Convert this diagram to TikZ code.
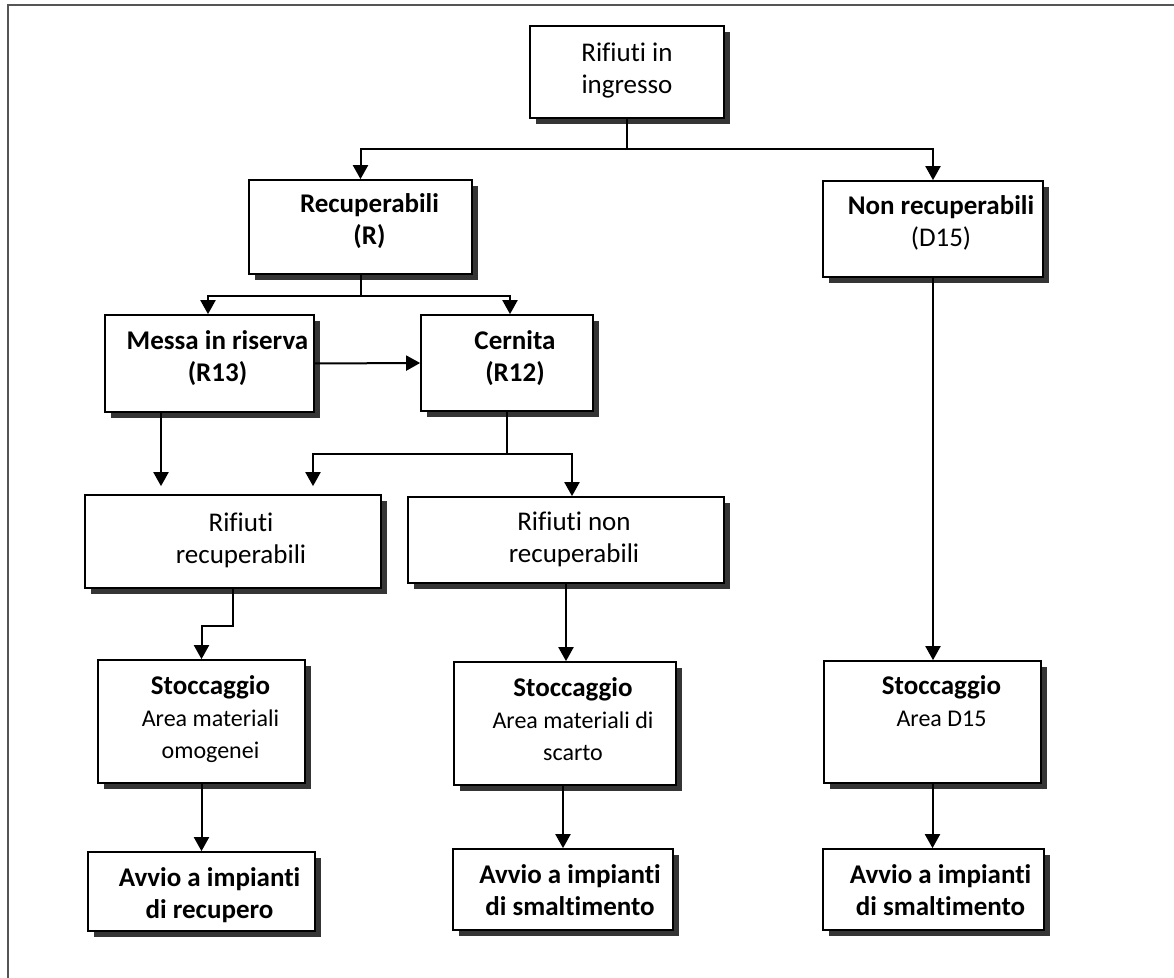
\documentclass[tikz,border=0pt]{standalone}
\usepackage{fontspec}
\setmainfont{Carlito}[Ligatures=NoCommon]
\usetikzlibrary{shadows,arrows.meta,calc}
\definecolor{shadowgray}{HTML}{353535}
\definecolor{framegray}{HTML}{555555}
\newcommand{\tl}{\rule{0pt}{10pt}}
\newcommand{\sm}{\fontsize{12}{16}\selectfont}
\tikzset{
  box/.style={draw, line width=0.85pt, fill=white, inner sep=0pt,
    drop shadow={shadow xshift=3pt, shadow yshift=-3pt, fill=shadowgray, opacity=1}},
  txt/.style={anchor=north, inner sep=0pt, align=center, font=\fontsize{13.5}{16}\selectfont},
  arr/.style={line width=1pt, -{Triangle[length=7pt,width=7.5pt]}},
  con/.style={line width=1pt}
}
\begin{document}
\begin{tikzpicture}[x=0.5pt,y=-0.5pt]
\fill[white] (0,0) rectangle (1174,978);
\useasboundingbox (0,0) rectangle (1174,978);
\draw[framegray, line width=1.1pt] (1174,5) -- (8,5) -- (8,978);

% boxes
\node[box, minimum width=97pt,   minimum height=46pt]   (A) at (627,72) {};
\node[box, minimum width=111.5pt,minimum height=47pt]   (B) at (360.5,227) {};
\node[box, minimum width=110pt,  minimum height=48pt]   (C) at (933,229) {};
\node[box, minimum width=104.5pt,minimum height=48.5pt] (D) at (209.5,363.5) {};
\node[box, minimum width=86pt,   minimum height=48pt]   (E) at (507,363) {};
\node[box, minimum width=148pt,  minimum height=46.5pt] (F) at (233,541.5) {};
\node[box, minimum width=158pt,  minimum height=43pt]   (G) at (566,540) {};
\node[box, minimum width=103.5pt,minimum height=61.5pt] (H) at (201.5,721.5) {};
\node[box, minimum width=111pt,  minimum height=61.5pt] (I) at (565,723.5) {};
\node[box, minimum width=108.5pt,minimum height=61pt]   (J) at (932.5,722) {};
\node[box, minimum width=113.5pt,minimum height=39.5pt] (K) at (201.5,891.5) {};
\node[box, minimum width=110pt,  minimum height=40.5pt] (L) at (563,889.5) {};
\node[box, minimum width=110.5pt,minimum height=40.5pt] (M) at (933.5,889.5) {};

% texts
\node[txt] (At) at ($(A.north)+(0,16)$) {\tl Rifiuti in\\ingresso};
\node[txt] (Bt) at ($(B.north)+(9,13)$) {\tl\textbf{Recuperabili}\\\textbf{(R)}};
\node[txt] (Ct) at ($(C.north)+(8,14)$) {\tl\textbf{Non recuperabili}\\(D15)};
\node[txt] (Dt) at ($(D.north)+(8,15)$) {\tl\textbf{Messa in riserva}\\\textbf{(R13)}};
\node[txt] (Et) at ($(E.north)+(8,15)$) {\tl\textbf{Cernita}\\\textbf{(R12)}};
\node[txt] (Ft) at ($(F.north)+(8,17)$) {\tl Rifiuti\\recuperabili};
\node[txt] (Gt) at ($(G.north)+(8,14)$) {\tl Rifiuti non\\recuperabili};
\node[txt] (Ht) at ($(H.north)+(9,15)$) {\tl\textbf{Stoccaggio}\\{\sm Area materiali}\\{\sm omogenei}};
\node[txt] (It) at ($(I.north)+(8,15)$) {\tl\textbf{Stoccaggio}\\{\sm Area materiali di}\\{\sm scarto}};
\node[txt] (Jt) at ($(J.north)+(9,14)$) {\tl\textbf{Stoccaggio}\\{\sm Area D15}};
\node[txt] (Kt) at ($(K.north)+(8,15)$) {\tl\textbf{Avvio a impianti}\\\textbf{di recupero}};
\node[txt] (Lt) at ($(L.north)+(7,15)$) {\tl\textbf{Avvio a impianti}\\\textbf{di smaltimento}};
\node[txt] (Mt) at ($(M.north)+(7,15)$) {\tl\textbf{Avvio a impianti}\\\textbf{di smaltimento}};

% connectors
\draw[con] (A.south) -- ++(0,30) coordinate (ab);
\draw[arr] (ab) -| (B.north);
\draw[arr] (ab) -| (C.north);

\draw[con] (B.south) -- ++(0,21) coordinate (bd);
\draw[arr] (bd) -| ($(D.north)+(-1.5,0)$);
\draw[arr] (bd) -| ($(E.north)+(3,0)$);

\draw[arr] (D.east) -- (E.west);

\draw[con] (E.south) -- ++(0,42) coordinate (ef);
\draw[arr] (ef) -| ($(F.north)+(80,-8)$);
\draw[arr] (ef) -| ($(G.north)+(6,0)$);

\draw[arr] ($(D.south)+(-48.5,0)$) -- ($(F.north)+(-72,-8)$);

\draw[arr] (F.south) -- ++(0,37) -| (H.north);
\draw[arr] (G.south) -- (G.south |- I.north);
\draw[arr] (C.south) -- (C.south |- J.north);

\draw[arr] (H.south) -- (K.north);
\draw[arr] ($(I.south)+(-2,0)$) -- (L.north);
\draw[arr] (J.south) -- (J.south |- M.north);
\end{tikzpicture}
\end{document}
